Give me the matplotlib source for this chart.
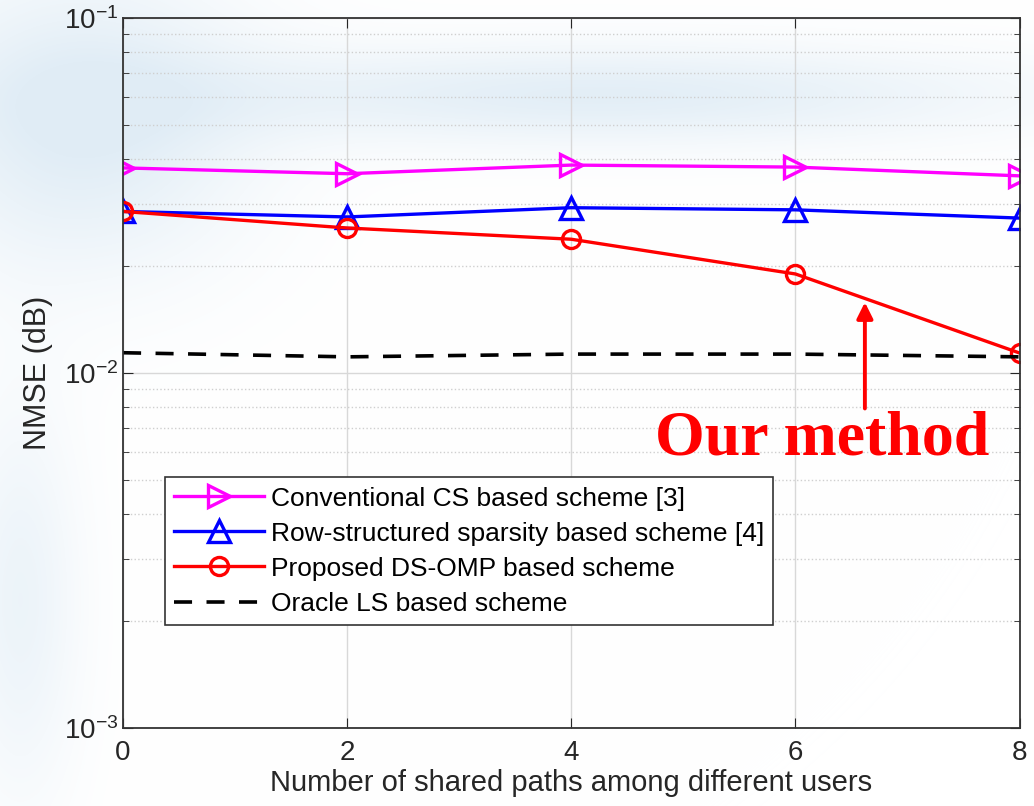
import numpy as np
import matplotlib
matplotlib.use("Agg")
import matplotlib.pyplot as plt

plt.rcParams['font.family'] = ['Liberation Sans', 'DejaVu Sans']
plt.rcParams['mathtext.default'] = 'regular'

# Data
shared_paths = [0, 2, 4, 6, 8]
conventional_cs = [0.0378, 0.0364, 0.0385, 0.0380, 0.0359]
row_structured = [0.0285, 0.0275, 0.0292, 0.0288, 0.0273]
proposed_dsomp = [0.0285, 0.0256, 0.0238, 0.0190, 0.01138]
oracle_ls = [0.0114, 0.0111, 0.0113, 0.0113, 0.0111]

labels = ['Conventional CS based scheme [3]',
          'Row-structured sparsity based scheme [4]',
          'Proposed DS-OMP based scheme',
          'Oracle LS based scheme']

fig = plt.figure(figsize=(10.34, 8.06), dpi=100)

# soft bluish background, like a slide backdrop
bg = fig.add_axes([0, 0, 1, 1], zorder=-10)
yy, xx = np.mgrid[0:806, 0:1034]
blue = np.exp(-(((xx - 80) / 170.0) ** 2 + ((yy - 120) / 150.0) ** 2))
blue += 0.9 * np.exp(-(((xx - 600) / 420.0) ** 2 + ((yy - 95) / 50.0) ** 2))
blue += 0.6 * np.exp(-(((xx - 20) / 60.0) ** 2 + ((yy - 600) / 200.0) ** 2))
blue = np.clip(blue, 0, 1) * 0.6
base = np.array([1.0, 1.0, 1.0])
tint = np.array([0.80, 0.88, 0.94])
img = base[None, None, :] * (1 - blue[..., None]) + tint[None, None, :] * blue[..., None]
bg.imshow(img, aspect='auto', extent=[0, 1, 0, 1])
bg.axis('off')

ax = fig.add_axes([0.119, 0.0968, 0.867, 0.881])
ax.patch.set_alpha(0.0)

ax.semilogy(shared_paths, conventional_cs, color='#ff00ff', lw=2.4, marker='>',
            ms=16, mfc='none', mew=2.4, label=labels[0])
ax.semilogy(shared_paths, row_structured, color='#0000ff', lw=2.4, marker='^',
            ms=16, mfc='none', mew=2.4, label=labels[1])
ax.semilogy(shared_paths, proposed_dsomp, color='#ff0000', lw=2.4, marker='o',
            ms=13, mfc='none', mew=2.4, label=labels[2])
ax.semilogy(shared_paths, oracle_ls, color='black', lw=2.6, ls=(0, (5, 4)),
            label=labels[3])

ax.set_xlim(0, 8)
ax.set_ylim(1e-3, 1e-1)
ax.set_xticks([0, 2, 4, 6, 8])
ax.tick_params(axis='both', which='both', direction='in', top=True, right=True,
               labelsize=20, colors='#262626')
ax.tick_params(axis='x', pad=9)
ax.tick_params(which='major', length=7)
ax.tick_params(which='minor', length=4)
ax.grid(True, axis='x', color='#d8d8d8', lw=1.0)
ax.grid(True, axis='y', which='minor', color='#cfcfcf', ls=':', lw=1.0)
ax.grid(True, axis='y', which='major', color='#d8d8d8', lw=1.0)
for s in ax.spines.values():
    s.set_color('#333333')
    s.set_linewidth(1.3)

ax.set_xlabel('Number of shared paths among different users', fontsize=21,
              color='#262626', labelpad=2)
ax.set_ylabel('NMSE (dB)', fontsize=22, color='#262626', labelpad=8)

leg = ax.legend(loc='lower left', bbox_to_anchor=(0.047, 0.145), fontsize=19,
                frameon=True, fancybox=False, handlelength=3.4, handletextpad=0.25,
                borderpad=0.35, labelspacing=0.42, borderaxespad=0)
leg.get_frame().set_edgecolor('#333333')
leg.get_frame().set_linewidth(1.2)
leg.get_frame().set_alpha(1.0)

# annotation
ax.annotate('', xy=(6.62, 0.0161), xytext=(6.62, 0.0078),
            arrowprops=dict(arrowstyle='-|>', color='#ff0000', lw=2.8,
                            mutation_scale=24))
ax.text(6.24, 0.0065, 'Our method', color='#ff0000', fontsize=46,
        fontweight='bold', family='Liberation Serif', ha='center', va='center')

fig.savefig('out.png', dpi=100)
